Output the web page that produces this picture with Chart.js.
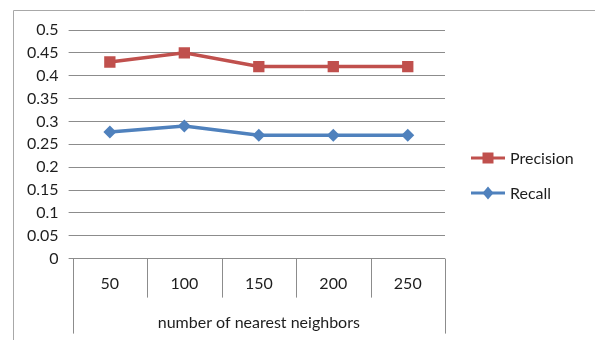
<!DOCTYPE html>
<html><head><meta charset="utf-8">
<script src="https://cdn.jsdelivr.net/npm/chart.js@4/dist/chart.umd.min.js"></script>
<style>html,body{margin:0;padding:0;background:#fff}</style>
</head><body>
<canvas id="c" width="595" height="340"></canvas>
<script>
const categories = ['50', '100', '150', '200', '250'];
const precision = [0.43, 0.45, 0.42, 0.42, 0.42];
const recall = [0.277, 0.29, 0.27, 0.27, 0.27];
const yTickLabels = ['0', '0.05', '0.1', '0.15', '0.2', '0.25', '0.3', '0.35', '0.4', '0.45', '0.5'];
const seriesNames = ['Precision', 'Recall'];
const axisTitle = 'number of nearest neighbors';

const RED = '#C0504D', BLUE = '#4F81BD', GRID = '#8c8c8c', TEXT = '#1e1e1e';
Chart.defaults.font.family = 'Lato';
Chart.defaults.font.size = 16;
Chart.defaults.color = TEXT;

function drawMarker(ctx, style, x, y, color) {
  ctx.fillStyle = color;
  ctx.beginPath();
  if (style === 'rect') {
    ctx.rect(x - 5.5, y - 5.5, 11, 11);
  } else {
    ctx.moveTo(x, y - 6.5); ctx.lineTo(x + 5.5, y); ctx.lineTo(x, y + 6.5); ctx.lineTo(x - 5.5, y); ctx.closePath();
  }
  ctx.fill();
}

const decor = {
  id: 'decor',
  beforeDraw(chart) {
    const ctx = chart.ctx;
    ctx.save();
    ctx.strokeStyle = '#a8a8a8';
    ctx.lineWidth = 1;
    ctx.beginPath();
    ctx.moveTo(13.5, 340); ctx.lineTo(13.5, 10.5); ctx.lineTo(595, 10.5);
    ctx.stroke();
    ctx.restore();
  },
  afterDraw(chart) {
    const ctx = chart.ctx, ca = chart.chartArea, xs = chart.scales.x;
    const n = categories.length;
    ctx.save();
    ctx.strokeStyle = GRID;
    ctx.lineWidth = 1;
    for (let i = 0; i <= n; i++) {
      let x, yEnd;
      if (i === 0) { x = ca.left; yEnd = ca.bottom + 75; }
      else if (i === n) { x = ca.right; yEnd = ca.bottom + 75; }
      else { x = (xs.getPixelForValue(i - 1) + xs.getPixelForValue(i)) / 2; yEnd = ca.bottom + 39; }
      x = Math.round(x) + 0.5;
      ctx.beginPath(); ctx.moveTo(x, ca.bottom); ctx.lineTo(x, yEnd); ctx.stroke();
    }
    // legend
    const lx = ca.right + 26, ly = 158, gap = 35;
    chart.data.datasets.forEach((ds, i) => {
      const y = ly + i * gap;
      ctx.strokeStyle = ds.borderColor; ctx.lineWidth = 3;
      ctx.beginPath(); ctx.moveTo(lx, y); ctx.lineTo(lx + 34, y); ctx.stroke();
      drawMarker(ctx, ds.pointStyle, lx + 17, y, ds.borderColor);
      ctx.fillStyle = TEXT; ctx.font = '16px Lato'; ctx.textBaseline = 'middle'; ctx.textAlign = 'left';
      ctx.fillText(ds.label, lx + 39, y + 1);
    });
    ctx.restore();
  }
};

new Chart(document.getElementById('c'), {
  type: 'line',
  data: {
    labels: categories,
    datasets: [
      { label: seriesNames[0], data: precision, borderColor: RED, backgroundColor: RED, borderWidth: 3.5,
        pointStyle: 'rect', pointRadius: 8, pointBorderWidth: 0, tension: 0 },
      { label: seriesNames[1], data: recall, borderColor: BLUE, backgroundColor: BLUE, borderWidth: 3.5,
        pointStyle: 'rectRot', pointRadius: 6.5, pointBorderWidth: 0, tension: 0 }
    ]
  },
  options: {
    responsive: false,
    animation: false,
    layout: { padding: { left: 17, right: 150, top: 30, bottom: 8 } },
    plugins: { legend: { display: false }, tooltip: { enabled: false } },
    scales: {
      x: {
        offset: true,
        grid: { display: false, drawTicks: false },
        border: { display: false },
        ticks: { padding: 16, color: TEXT },
        title: { display: true, text: axisTitle, padding: { top: 3, bottom: 0 }, color: TEXT, font: { size: 16 } }
      },
      y: {
        min: 0, max: 0.5,
        ticks: { stepSize: 0.05, autoSkip: false, padding: 10, color: TEXT, callback: (v, i) => yTickLabels[i] },
        grid: { color: GRID, lineWidth: 1, tickLength: 4, drawTicks: true },
        border: { display: false }
      }
    }
  },
  plugins: [decor]
});
</script>
</body></html>
